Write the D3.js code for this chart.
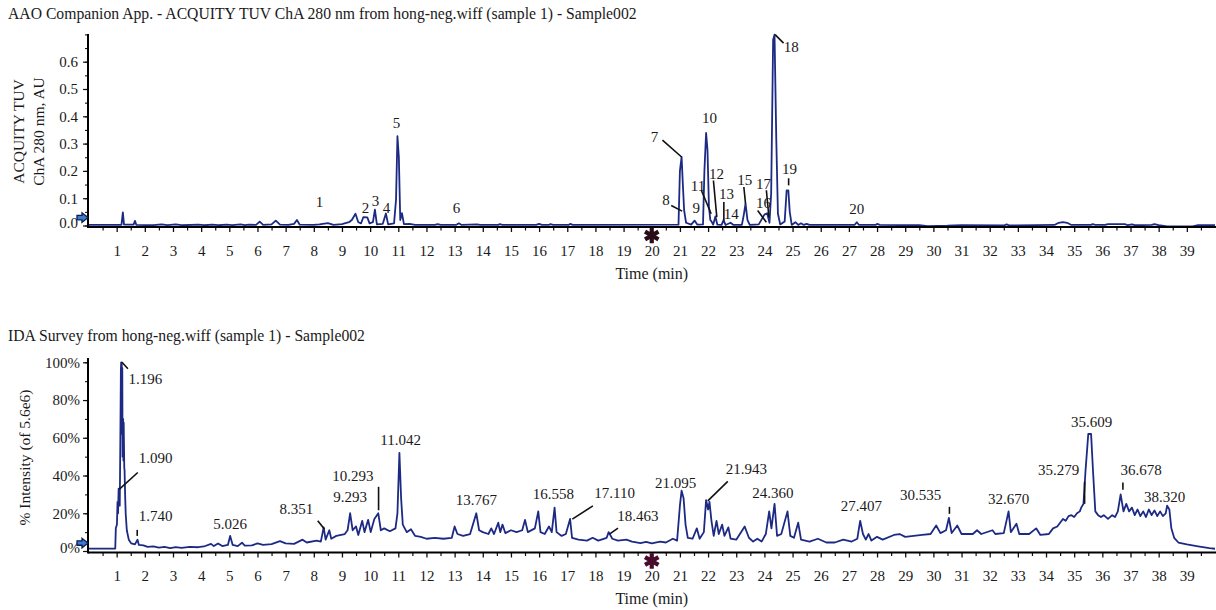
<!DOCTYPE html>
<html><head><meta charset="utf-8">
<script src="https://cdn.jsdelivr.net/npm/d3@7"></script>
<style>
body{margin:0;background:#fff}
svg{display:block}
text{font-family:"Liberation Serif","Times New Roman",serif;fill:#1a1a1a}
</style>
</head><body>
<svg id="c" width="1216" height="610"></svg>
<script>
// ---------------- DATA ----------------
const topTitle = "AAO Companion App. - ACQUITY TUV ChA 280 nm from hong-neg.wiff (sample 1) - Sample002";
const botTitle = "IDA Survey from hong-neg.wiff (sample 1) - Sample002";
const topYLabel = ["ACQUITY TUV", "ChA 280 nm, AU"];
const botYLabel = "% Intensity (of 5.6e6)";
const xLabel = "Time (min)";
const timeTicks = d3.range(1, 40);
const halfTicks = d3.range(0.5, 40, 0.5);
const topYTicks = [0, 0.1, 0.2, 0.3, 0.4, 0.5, 0.6];
const topYMinor = d3.range(0, 0.701, 0.05);
const botYTicks = [0, 20, 40, 60, 80, 100];
const botYMinor = d3.range(0, 101, 10);

// UV trace (time min, absorbance AU)
const uvPoints = [[0,0.002],[1.17,0.002],[1.22,0.048],[1.26,0.003],[1.6,0.003],[1.65,0.017],[1.7,0.002],[2.3,0.001],[2.6,0.004],[2.8,0.001],[3.1,0.004],[3.3,0.001],[3.9,0.003],[4.1,0.001],[4.4,0.003],[4.6,0.001],[4.9,0.003],[5.1,0.001],[5.4,0.004],[5.55,0.001],[5.7,0.003],[5.95,0.002],[6.08,0.014],[6.2,0.002],[6.5,0.004],[6.65,0.018],[6.8,0.003],[7.1,0.002],[7.3,0.006],[7.4,0.02],[7.5,0.003],[8.0,0.002],[8.2,0.004],[8.5,0.009],[8.7,0.002],[9.0,0.005],[9.25,0.012],[9.35,0.02],[9.48,0.043],[9.58,0.012],[9.68,0.008],[9.76,0.031],[9.9,0.03],[9.98,0.008],[10.1,0.012],[10.17,0.058],[10.24,0.004],[10.45,0.006],[10.56,0.044],[10.64,0.004],[10.85,0.008],[10.92,0.095],[10.97,0.327],[11.02,0.25],[11.07,0.02],[11.13,0.045],[11.2,0.005],[11.4,0.006],[11.6,0.002],[12.3,0.002],[12.4,0.005],[12.5,0.002],[13.05,0.002],[13.15,0.008],[13.25,0.002],[13.8,0.004],[13.9,0.002],[14.55,0.002],[14.6,0.005],[14.7,0.002],[15.9,0.002],[16.0,0.006],[16.1,0.002],[16.35,0.002],[16.4,0.005],[16.5,0.002],[17.05,0.002],[17.1,0.006],[17.2,0.002],[20.95,0.003],[21.0,0.2],[21.06,0.251],[21.1,0.16],[21.15,0.055],[21.22,0.01],[21.4,0.003],[21.52,0.018],[21.62,0.003],[21.82,0.004],[21.87,0.2],[21.93,0.339],[21.98,0.275],[22.03,0.07],[22.08,0.02],[22.12,0.015],[22.18,0.003],[22.26,0.033],[22.33,0.003],[22.48,0.002],[22.55,0.02],[22.62,0.002],[22.8,0.01],[22.9,0.002],[23.2,0.002],[23.27,0.04],[23.33,0.08],[23.4,0.02],[23.48,0.002],[23.8,0.004],[24.0,0.04],[24.1,0.045],[24.18,0.01],[24.24,0.117],[24.31,0.68],[24.36,0.699],[24.42,0.325],[24.48,0.044],[24.56,0.004],[24.72,0.015],[24.79,0.129],[24.85,0.129],[24.9,0.05],[24.97,0.002],[25.1,0.012],[25.2,0.002],[25.3,0.008],[25.4,0.002],[25.5,0.006],[25.6,0.002],[27.2,0.002],[27.28,0.012],[27.36,0.002],[27.95,0.002],[28.0,0.006],[28.1,0.002],[29.5,0.001],[29.8,-0.002],[30.5,-0.001],[31.0,0.001],[32.5,0.0],[32.6,0.004],[32.7,0.0],[34.3,0.002],[34.45,0.01],[34.6,0.012],[34.75,0.01],[34.9,0.002],[35.6,0.002],[35.65,0.005],[35.75,0.002],[36.1,0.002],[36.2,0.005],[36.8,0.005],[36.9,0.001],[37.05,0.004],[37.15,0.001],[37.75,0.002],[37.85,0.005],[38.0,0.001],[38.3,-0.003],[39.2,-0.003],[39.4,0.001],[40,0.001]];

// TIC trace (time min, % intensity)
const ticPoints = [[0,1.3],[0.95,1.3],[0.97,12],[1.01,14],[1.03,26],[1.05,20],[1.07,33],[1.09,30],[1.11,24],[1.13,58],[1.15,96],[1.16,100],[1.18,99],[1.19,62],[1.2,97],[1.21,50],[1.23,70],[1.24,48],[1.25,68],[1.27,44],[1.28,43],[1.3,30],[1.32,20],[1.36,11],[1.43,6],[1.52,4],[1.65,3.5],[1.74,6],[1.79,3.2],[1.95,3],[2.1,2.2],[2.3,2.5],[2.5,1.8],[2.7,2.2],[2.9,1.5],[3.1,2],[3.3,1.6],[3.6,2.2],[3.9,2],[4.1,2.4],[4.35,3.8],[4.45,2.6],[4.6,4],[4.75,2.6],[4.95,3.2],[5.03,8],[5.12,3.2],[5.3,2.6],[5.45,4.4],[5.55,2.8],[5.8,3],[6.0,4],[6.2,3.2],[6.5,3.6],[6.8,5.2],[7.0,4],[7.3,3.8],[7.6,6],[7.75,4.5],[8.1,5.5],[8.25,5],[8.35,12.5],[8.42,6],[8.55,11],[8.62,6.5],[8.8,8],[9.1,9],[9.2,11],[9.29,20],[9.38,11],[9.5,13],[9.58,8.5],[9.72,16],[9.8,10],[9.93,16.5],[10.02,10],[10.15,17],[10.29,20],[10.38,11],[10.5,12],[10.7,10.5],[10.9,12],[10.97,20],[11.04,52],[11.1,28],[11.16,14],[11.3,10],[11.45,11.5],[11.6,8],[11.8,7.5],[12.0,6.5],[12.3,7],[12.6,6.5],[12.9,7],[13.0,13],[13.1,9],[13.3,8],[13.55,9],[13.77,20],[13.87,11],[14.0,10],[14.2,9],[14.3,12],[14.4,9],[14.55,15],[14.62,10],[14.7,14],[14.8,9.5],[15.0,11],[15.2,10],[15.4,11],[15.5,16.5],[15.6,10],[15.85,12],[15.97,21],[16.05,10],[16.2,9],[16.35,13],[16.45,10],[16.55,23],[16.62,10],[16.8,8],[16.95,9],[17.1,17],[17.17,7],[17.4,6],[17.7,5.5],[17.9,7],[18.1,5.5],[18.4,7],[18.47,10],[18.6,6.5],[18.8,5.5],[19.1,6],[19.3,5],[19.6,4.2],[19.8,4.8],[20.0,4],[20.3,5],[20.5,4.5],[20.75,6.5],[20.9,5.5],[21.0,24],[21.06,32],[21.13,28],[21.2,14],[21.28,7],[21.45,6.5],[21.6,12],[21.7,6.5],[21.85,10],[21.93,27],[22.0,22],[22.05,26],[22.12,16],[22.2,8],[22.3,16],[22.38,9],[22.5,14],[22.58,8],[22.72,12.5],[22.8,6.5],[23.0,6],[23.3,13],[23.45,7],[23.6,5],[23.75,6.5],[23.9,5],[24.05,9],[24.17,21],[24.25,12],[24.36,25],[24.45,8],[24.6,9],[24.82,21],[24.92,8],[25.05,7],[25.2,15],[25.3,6],[25.6,5],[25.9,6.5],[26.2,4.5],[26.5,4.5],[26.8,6],[27.1,5],[27.3,6.5],[27.4,16],[27.5,9],[27.6,6],[27.7,9],[27.8,5.5],[28.0,7.5],[28.2,6],[28.6,8.5],[28.8,9],[29.0,7.5],[29.3,8],[29.6,8.5],[29.9,9],[30.1,13.5],[30.25,9.5],[30.45,11],[30.55,17.5],[30.65,9.5],[30.85,13.5],[31.0,9],[31.4,9],[31.55,11],[31.7,9],[32.1,11],[32.2,9],[32.5,9.5],[32.67,21],[32.75,10],[32.95,14.5],[33.05,9],[33.4,9],[33.65,12],[33.8,8.5],[34.1,9],[34.25,12],[34.4,13],[34.5,15],[34.6,17],[34.7,16],[34.8,18.5],[34.9,19],[35.0,18],[35.1,20],[35.2,21],[35.25,23],[35.33,25],[35.4,42],[35.5,62],[35.6,62],[35.67,42],[35.75,21],[35.85,19],[35.95,18],[36.05,19],[36.2,17],[36.35,19],[36.45,18],[36.55,21],[36.65,30],[36.75,21],[36.85,25],[36.95,21],[37.05,23],[37.15,19],[37.25,22],[37.35,18.5],[37.45,21],[37.55,18],[37.65,22],[37.75,19],[37.85,21.5],[37.95,18.5],[38.05,21],[38.15,18.5],[38.25,20],[38.3,24],[38.38,22],[38.45,12],[38.55,7],[38.7,4.5],[39.0,3.5],[39.4,2.5],[39.8,1.5],[40.0,1.2]];

// peak annotations: [text, time, value]
const uvLabels = [["1",8.2,0.085],["2",9.84,0.0625],["3",10.19,0.088],["4",10.58,0.0625],["5",10.94,0.375],["6",13.07,0.0625],["7",20.1,0.324],["8",20.51,0.092],["9",21.58,0.0625],["10",22.05,0.393],["11",21.64,0.144],["12",22.3,0.1875],["13",22.65,0.1165],["14",22.82,0.043],["15",23.3,0.165],["16",23.97,0.082],["17",23.97,0.151],["18",24.95,0.655],["19",24.89,0.208],["20",27.28,0.061]];
// leaders: [t1, v1, t2, v2]
const uvLeaders = [[20.38,0.3125,21.06,0.251],[20.69,0.0735,21.08,0.0526],[21.76,0.129,22.11,0.043],[22.19,0.165,22.31,0.0305],[22.56,0.0857,22.56,0.018],[23.27,0.141,23.33,0.08],[23.76,0.055,24.07,0.012],[24.07,0.129,24.16,0.0305],[24.68,0.668,24.38,0.699],[24.86,0.173,24.86,0.147]];

const ticLabels = [["1.196",2.02,91.3],["1.090",2.38,49.3],["1.740",2.38,18.3],["5.026",5.03,14.5],["8.351",7.38,22.2],["10.293",9.39,39.9],["9.293",9.29,28.4],["11.042",11.08,59],["13.767",13.77,27],["16.558",16.51,30.2],["17.110",18.68,30.5],["18.463",19.51,18.6],["21.095",20.85,36.3],["21.943",23.36,43.4],["24.360",24.3,30.5],["27.407",27.44,23.6],["30.535",29.55,29.8],["32.670",32.67,27.8],["35.279",34.45,43.1],["35.609",35.62,68.2],["36.678",37.38,43.1],["38.320",38.21,28.7]];
const ticLeaders = [[1.18,100.2,1.4,96.6],[1.75,41.6,1.1,32.8],[1.73,11.2,1.73,8.0],[8.14,16,8.38,11.5],[10.3,34,10.3,21.6],[17.91,23.9,17.18,16.9],[18.8,12.1,18.5,8.9],[22.7,36.9,21.99,26.6],[30.57,23.4,30.57,19.7],[35.37,36.7,35.37,25],[36.73,36.3,36.73,32.4]];

// ---------------- DRAW ----------------
const svg = d3.select("#c");
const lineColor = "#1d2a84";
const x = d3.scaleLinear().domain([0, 40]).range([88.5, 1215]);
const yTop = d3.scaleLinear().domain([0, 0.7]).range([225.5, 34.4]);
const yBot = d3.scaleLinear().domain([0, 100]).range([551, 362.3]);

function panel(opts) {
  const g = svg.append("g");
  const y = opts.y;
  const y0 = y.range()[0];
  const axisY = y0 + 1.5;
  g.append("text").attr("x", 8).attr("y", opts.titleY).style("font-size", "15.7px").text(opts.title);
  g.append("path").datum(opts.points)
    .attr("fill", "none").attr("stroke", lineColor).attr("stroke-width", 1.8).attr("stroke-linejoin", "round")
    .attr("d", d3.line().x(d => x(d[0])).y(d => y(d[1])));
  const xa = g.append("g").attr("transform", `translate(0,${axisY})`)
    .call(d3.axisBottom(x).tickValues(timeTicks).tickSize(5).tickPadding(13).tickFormat(d3.format("d")));
  xa.select(".domain").remove();
  xa.selectAll("text").style("font-size", "15px").attr("font-family", null);
  xa.selectAll("line").attr("stroke", "#111").attr("stroke-width", 1.3);
  const xm = g.append("g").attr("transform", `translate(0,${axisY})`)
    .call(d3.axisBottom(x).tickValues(halfTicks.filter(v => v % 1 !== 0)).tickSize(3.5).tickFormat(""));
  xm.select(".domain").remove();
  xm.selectAll("line").attr("stroke", "#111").attr("stroke-width", 1.2);
  const ya = g.append("g").attr("transform", "translate(88,0)")
    .call(d3.axisLeft(y).tickValues(opts.yTicks).tickSize(5).tickPadding(opts.yPad).tickFormat(opts.yFmt));
  ya.select(".domain").remove();
  ya.selectAll("text").style("font-size", "15px").attr("font-family", null);
  ya.selectAll("line").attr("stroke", "#111").attr("stroke-width", 1.2);
  ya.selectAll(".tick").filter(d => d === 0).select("text").attr("y", -3);
  const ym = g.append("g").attr("transform", "translate(88,0)")
    .call(d3.axisLeft(y).tickValues(opts.yMinor).tickSize(3).tickFormat(""));
  ym.select(".domain").remove();
  ym.selectAll("line").attr("stroke", "#111").attr("stroke-width", 1.1);
  g.append("line").attr("x1", 88).attr("x2", 1216).attr("y1", axisY).attr("y2", axisY).attr("stroke", "#000").attr("stroke-width", 2);
  g.append("line").attr("x1", 88).attr("x2", 88).attr("y1", opts.yTopPx).attr("y2", axisY + 1).attr("stroke", "#000").attr("stroke-width", 2);
  g.append("text").attr("x", x(20)).attr("y", opts.xLabelY).attr("text-anchor", "middle").style("font-size", "16px").text(xLabel);
  opts.yLabel.forEach((t, i) => {
    g.append("text").attr("transform", `translate(${opts.yLabelX[i]},${opts.yLabelCY}) rotate(-90)`)
      .attr("text-anchor", "middle").attr("dominant-baseline", "central").style("font-size", "15.5px").text(t);
  });
  const ay = y(opts.arrowV);
  g.append("path")
    .attr("d", `M77,${ay - 2.2}L82,${ay - 2.2}L82,${ay - 4.8}L88,${ay}L82,${ay + 4.8}L82,${ay + 2.2}L77,${ay + 2.2}Z`)
    .attr("fill", "#3b7bd4").attr("stroke", "#0d1d4a").attr("stroke-width", 1.3);
  g.append("path").attr("transform", `translate(${x(20)},${axisY + 8.5})`)
    .attr("d", d3.symbol(d3.symbolAsterisk, 170)())
    .attr("fill", "none").attr("stroke", opts.starColor).attr("stroke-width", 4.2);
  g.selectAll(".ld").data(opts.leaders).join("line")
    .attr("x1", d => x(d[0])).attr("y1", d => y(d[1])).attr("x2", d => x(d[2])).attr("y2", d => y(d[3]))
    .attr("stroke", "#111").attr("stroke-width", 1.6);
  g.selectAll(".lb").data(opts.labels).join("text")
    .attr("x", d => x(d[1])).attr("y", d => y(d[2])).attr("text-anchor", "middle").attr("dominant-baseline", "central")
    .style("font-size", "15px").text(d => d[0]);
}

panel({
  title: topTitle, titleY: 19, y: yTop, points: uvPoints,
  yTicks: topYTicks, yMinor: topYMinor, yPad: 5, yFmt: d3.format(".1f"), yTopPx: 34,
  xLabelY: 279, yLabel: topYLabel, yLabelX: [18.5, 38.5], yLabelCY: 131.5,
  arrowV: 0.029, starColor: "#2a0c18", leaders: uvLeaders, labels: uvLabels
});
panel({
  title: botTitle, titleY: 341, y: yBot, points: ticPoints,
  yTicks: botYTicks, yMinor: botYMinor, yPad: 3, yFmt: d => d + "%", yTopPx: 358,
  xLabelY: 604, yLabel: [botYLabel], yLabelX: [24], yLabelCY: 457.5,
  arrowV: 4.2, starColor: "#4a0a2c", leaders: ticLeaders, labels: ticLabels
});
</script>
</body></html>
